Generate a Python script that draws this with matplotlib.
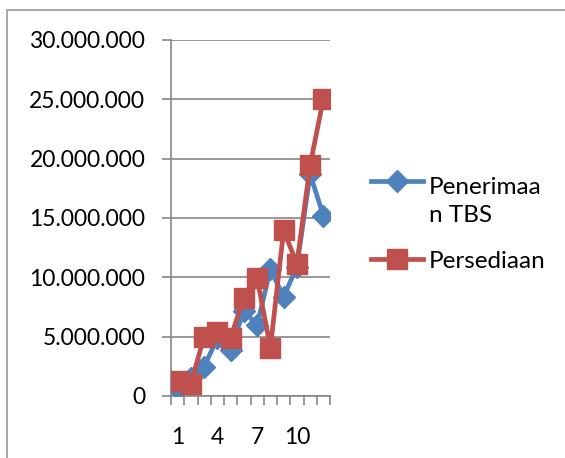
import numpy as np
import matplotlib.pyplot as plt
from matplotlib.lines import Line2D
from matplotlib.patches import Rectangle

plt.rcParams['font.family'] = ['Lato', 'DejaVu Sans']

# values
bulan = np.arange(1, 13)
penerimaan_tbs = [600000, 1500000, 2450000, 4900000, 3900000, 7200000,
                  5950000, 10700000, 8350000, 10900000, 18700000, 15200000]
persediaan = [1300000, 1050000, 5000000, 5400000, 4900000, 8300000,
              9950000, 4050000, 13950000, 11150000, 19450000, 25050000]
y_ticks = [0, 5000000, 10000000, 15000000, 20000000, 25000000, 30000000]
x_labels = ['1', '4', '7', '10']

blue = '#4F81BD'
red = '#C0504D'
grey = '#868686'
fs_tick = 16.5
fs_leg = 17.5

W, H = 565, 458
fig = plt.figure(figsize=(W / 100, H / 100), dpi=100)
ax = fig.add_axes([171 / W, 1 - 396 / H, 159 / W, 356 / H])

# outer chart border (cut off on right and bottom like the reference)
fig.add_artist(Rectangle((7 / W, -0.1), 1.2, 1 - 10 / H + 0.1,
                         transform=fig.transFigure, fill=False,
                         edgecolor='#9a9a9a', linewidth=1.2))

pos = bulan - 0.5  # categories centred between tick marks
ax.plot(pos, penerimaan_tbs, color=blue, linewidth=3.4, marker='D',
        markersize=11, markeredgecolor=blue, zorder=3)
ax.plot(pos, persediaan, color=red, linewidth=3.4, marker='s',
        markersize=14, markeredgecolor=red, zorder=4)

ax.set_xlim(0, 12)
ax.set_ylim(0, 30000000)
ax.set_yticks(y_ticks)
ax.set_yticklabels([f'{v:,}'.replace(',', '.') for v in y_ticks], fontsize=fs_tick)
ax.yaxis.grid(True, color=grey, linewidth=1.2)
ax.set_axisbelow(True)

ax.set_xticks(np.arange(0, 13))
ax.set_xticklabels([])
ax.set_xticks([0.5, 3.5, 6.5, 9.5], minor=True)
ax.set_xticklabels(x_labels, minor=True, fontsize=fs_tick)
ax.tick_params(axis='x', which='major', length=6.5, width=1.2, color=grey)
ax.tick_params(axis='x', which='minor', length=0, pad=22)
ax.tick_params(axis='y', length=6.5, width=1.2, color=grey, pad=12)

for s in ['top', 'right']:
    ax.spines[s].set_visible(False)
for s in ['left', 'bottom']:
    ax.spines[s].set_color(grey)
    ax.spines[s].set_linewidth(1.2)

# legend drawn like the Excel one: handle aligned with first text line
fig.add_artist(Line2D([371 / W, 423 / W], [1 - 181 / H] * 2, color=blue,
                      linewidth=3.4, transform=fig.transFigure))
fig.add_artist(Line2D([397 / W], [1 - 181 / H], color=blue, marker='D',
                      markersize=11, linestyle='none', transform=fig.transFigure))
fig.add_artist(Line2D([371 / W, 423 / W], [1 - 259 / H] * 2, color=red,
                      linewidth=3.4, transform=fig.transFigure))
fig.add_artist(Line2D([397 / W], [1 - 259 / H], color=red, marker='s',
                      markersize=14, linestyle='none', transform=fig.transFigure))
fig.text(429 / W, 1 - 187 / H, 'Penerimaa', fontsize=fs_leg, va='center')
fig.text(429 / W, 1 - 215 / H, 'n TBS', fontsize=fs_leg, va='center')
fig.text(429 / W, 1 - 262 / H, 'Persediaan', fontsize=fs_leg, va='center')

fig.savefig('out.png', dpi=100)
